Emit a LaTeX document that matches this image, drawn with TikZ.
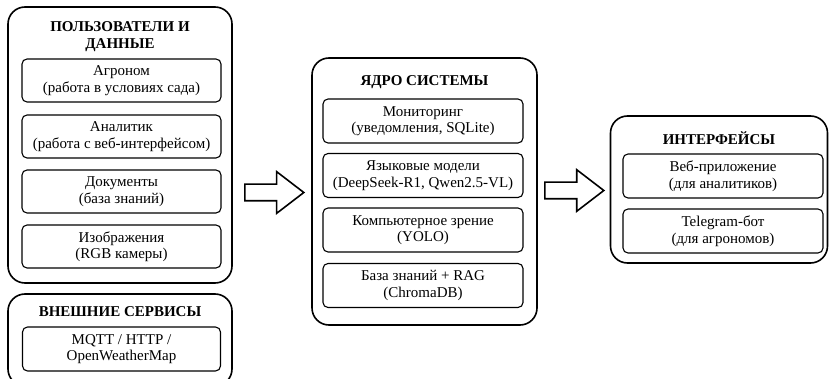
\documentclass[tikz,border=0pt]{standalone}
\usepackage{fontspec}
\setmainfont{Liberation Serif}
\usetikzlibrary{shapes.arrows}
\tikzset{
  container/.style={draw, line width=1.6pt, rounded corners=17pt, anchor=center},
  item/.style={draw, line width=1.1pt, rounded corners=5pt, align=center, inner sep=0pt,
    font=\fontsize{15}{16.5}\selectfont},
  title/.style={align=center, inner sep=0pt, font=\fontsize{15}{17}\selectfont\bfseries},
  bigarrow/.style={draw, line width=1.6pt, single arrow, single arrow head extend=12.5pt,
    single arrow tip angle=75, inner xsep=0pt, inner ysep=7.5pt, anchor=tail}
}
\begin{document}
\begin{tikzpicture}[x=1pt,y=-1pt]
\useasboundingbox (0,0) rectangle (829,379);
% left container
\node[container, minimum width=224pt, minimum height=276pt] (users) at (120,145) {};
\node[title] (userst) at (120,37) {ПОЛЬЗОВАТЕЛИ И\\ДАННЫЕ};
\node[item, minimum width=199pt, minimum height=43pt] (agr) at (121.5,80.5) {Агроном\\(работа в условиях сада)};
\node[item, minimum width=199pt, minimum height=43pt] (anl) at (121.5,136.5) {Аналитик\\(работа с веб-интерфейсом)};
\node[item, minimum width=199pt, minimum height=43pt] (doc) at (121.5,191.5) {Документы\\(база знаний)};
\node[item, minimum width=199pt, minimum height=43pt] (img) at (121.5,246.5) {Изображения\\(RGB камеры)};
% bottom container
\node[container, minimum width=224pt, minimum height=92pt] (ext) at (120,340) {};
\node[title] (extt) at (120,312) {ВНЕШНИЕ СЕРВИСЫ};
\node[item, minimum width=198pt, minimum height=44pt] (mqtt) at (121.5,349) {MQTT / HTTP /\\OpenWeatherMap};
% middle container
\node[container, minimum width=225pt, minimum height=267pt] (core) at (424.5,191.5) {};
\node[title] (coret) at (424.5,82) {ЯДРО СИСТЕМЫ};
\node[item, minimum width=200pt, minimum height=44pt] (mon) at (423,121) {Мониторинг\\(уведомления, SQLite)};
\node[item, minimum width=200pt, minimum height=44pt] (llm) at (423,175.5) {Языковые модели\\(DeepSeek-R1, Qwen2.5-VL)};
\node[item, minimum width=200pt, minimum height=44pt] (cv) at (423,230) {Компьютерное зрение\\(YOLO)};
\node[item, minimum width=200pt, minimum height=44pt] (rag) at (423,285.5) {База знаний + RAG\\(ChromaDB)};
% right container
\node[container, minimum width=217pt, minimum height=147pt] (ui) at (719,189.5) {};
\node[title] (uit) at (719,138) {ИНТЕРФЕЙСЫ};
\node[item, minimum width=200pt, minimum height=44pt] (web) at (723,176) {Веб-приложение\\(для аналитиков)};
\node[item, minimum width=200pt, minimum height=44pt] (tg) at (723,231) {Telegram-бот\\(для агрономов)};
% arrows
\node[bigarrow, minimum height=59pt] (a1) at (244,192.5) {};
\node[bigarrow, minimum height=59pt] (a2) at (544,190.5) {};
\end{tikzpicture}
\end{document}
